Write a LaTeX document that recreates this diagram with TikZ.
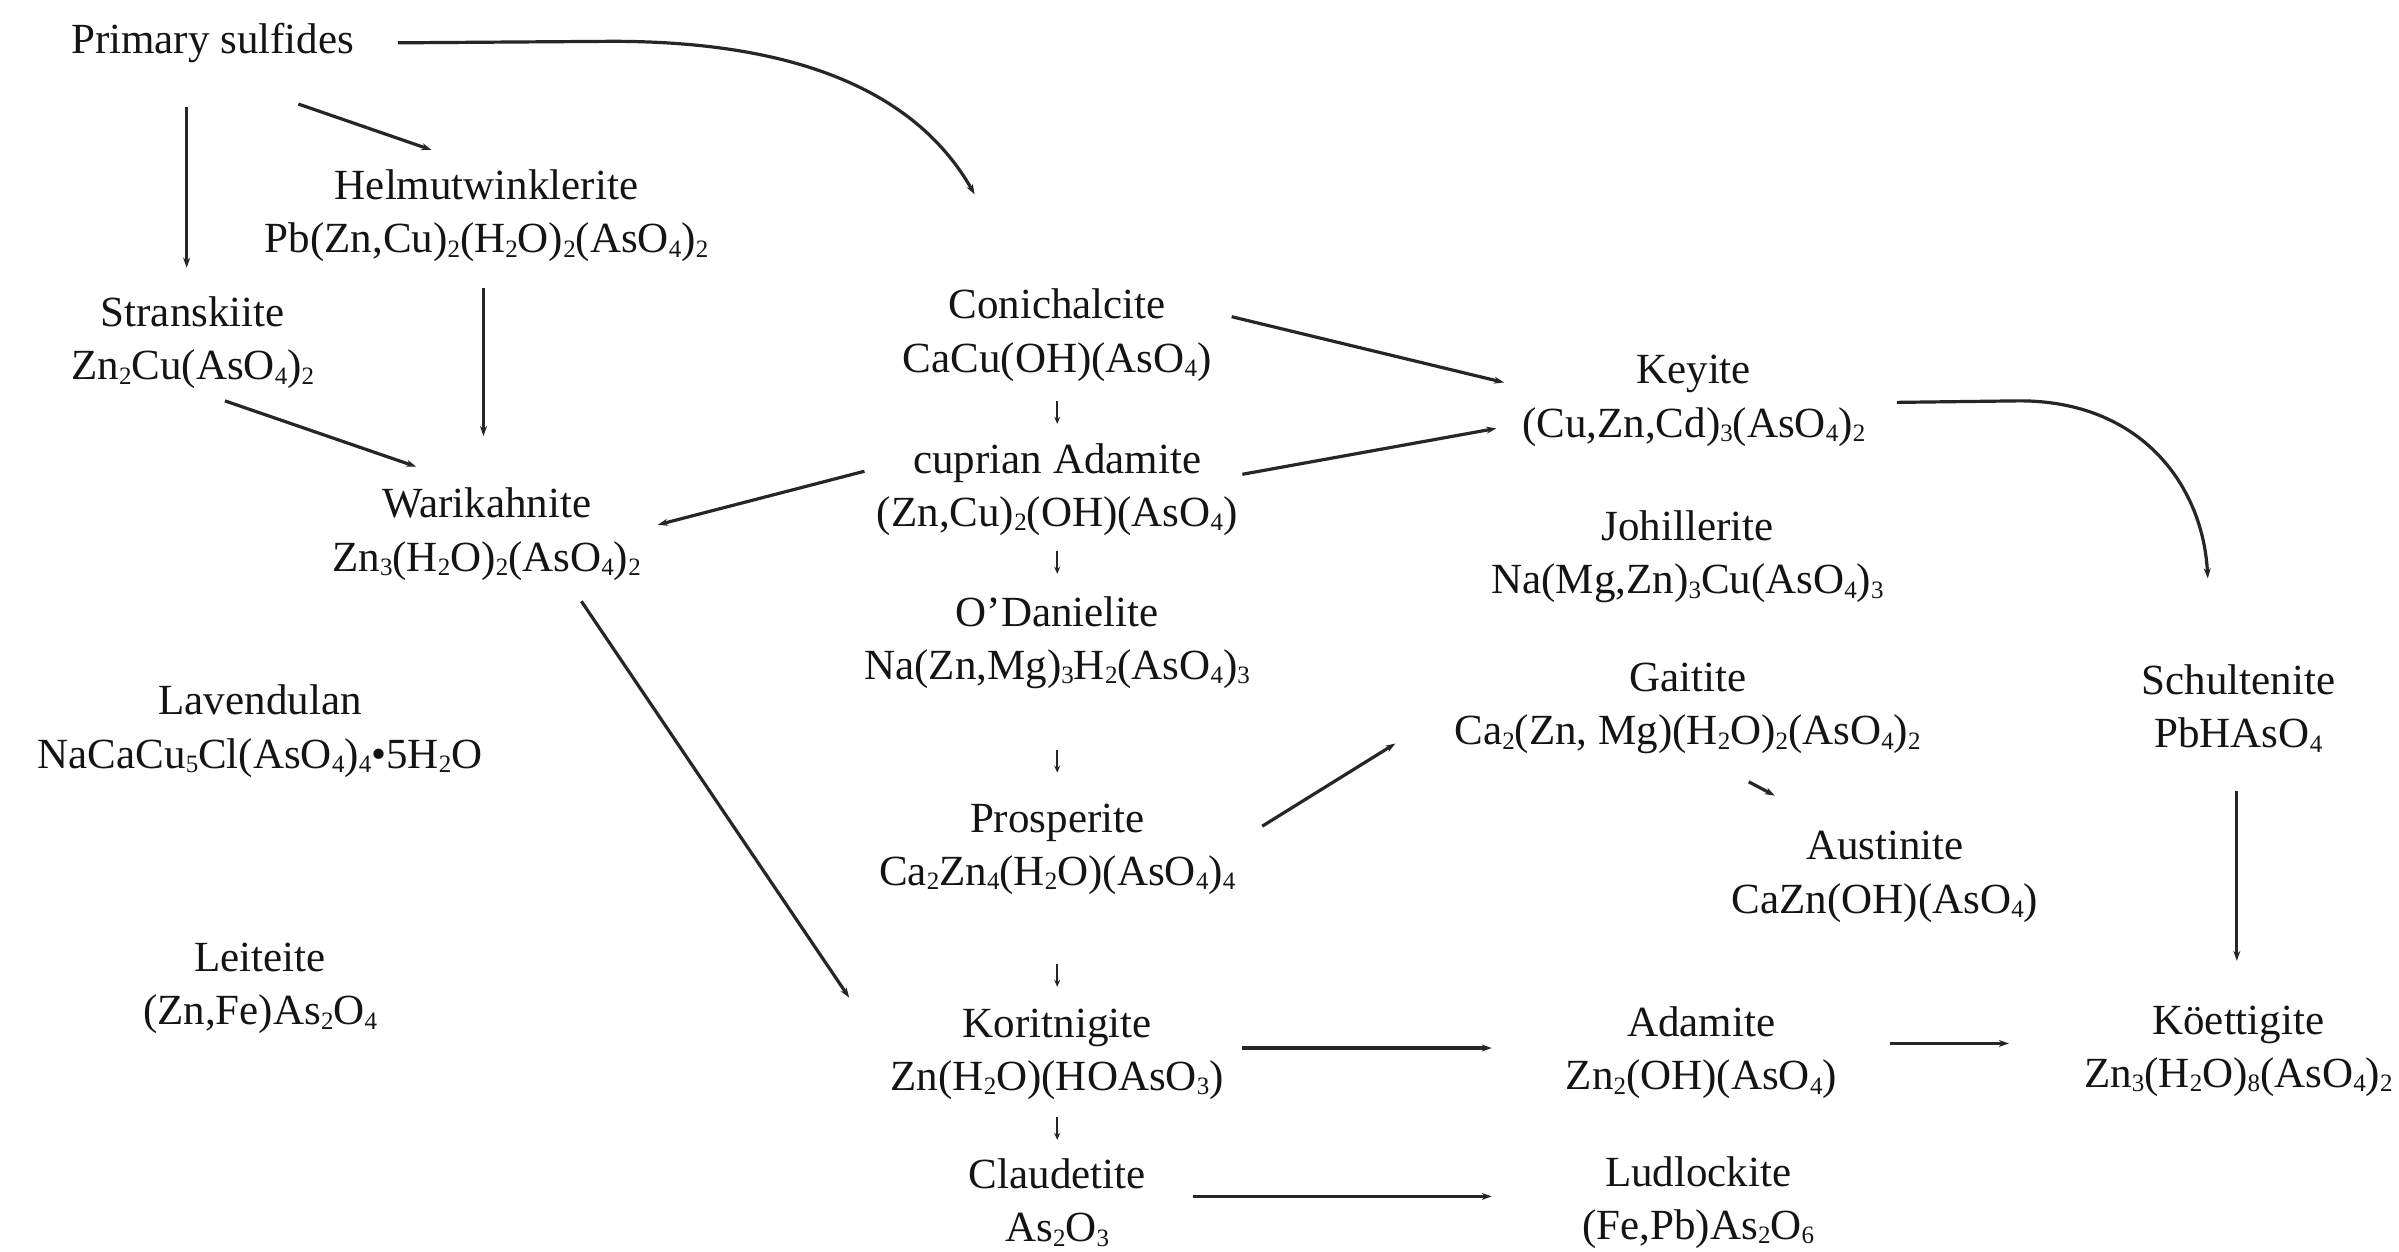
\documentclass[tikz,border=0pt]{standalone}
\usepackage{fontspec}
\setmainfont{Liberation Serif}
\usetikzlibrary{arrows.meta}
\newcommand\sbs[1]{\raisebox{-0.1em}{\fontsize{25}{25}\selectfont #1}}
\begin{document}
\begin{tikzpicture}[x=1.53pt,y=-1.53pt,
  mineral/.style={align=center,inner sep=0pt,font=\fontsize{43}{53.5}\selectfont,text=black!92},
  conn/.style={draw=black!85,line width=3.2pt,-{Stealth[length=10pt,width=7pt]}},
  tinyarr/.style={draw=black!85,line width=2.2pt,-{Stealth[length=7pt,width=6pt]}}]
\fill[white] (0,0) rectangle (1568,818);
\useasboundingbox (0,0) rectangle (1568,818);

\node[mineral] (ps) at (139,28) {Primary sulfides};
\node[mineral] (helm) at (318,141) {Helmutwinklerite\\Pb(Zn,Cu)\sbs{2}(H\sbs{2}O)\sbs{2}(AsO\sbs{4})\sbs{2}};
\node[mineral] (str) at (126,224) {Stranskiite\\Zn\sbs{2}Cu(AsO\sbs{4})\sbs{2}};
\node[mineral] (war) at (318,349) {Warikahnite\\Zn\sbs{3}(H\sbs{2}O)\sbs{2}(AsO\sbs{4})\sbs{2}};
\node[mineral] (lav) at (170,478) {Lavendulan\\NaCaCu\sbs{5}Cl(AsO\sbs{4})\sbs{4}\textbullet5H\sbs{2}O};
\node[mineral] (lei) at (170,646) {Leiteite\\(Zn,Fe)As\sbs{2}O\sbs{4}};
\node[mineral] (coni) at (691,219) {Conichalcite\\CaCu(OH)(AsO\sbs{4})};
\node[mineral] (cad) at (691,320) {cuprian Adamite\\(Zn,Cu)\sbs{2}(OH)(AsO\sbs{4})};
\node[mineral] (oda) at (691,420) {O’Danielite\\Na(Zn,Mg)\sbs{3}H\sbs{2}(AsO\sbs{4})\sbs{3}};
\node[mineral] (pros) at (691,555) {Prosperite\\Ca\sbs{2}Zn\sbs{4}(H\sbs{2}O)(AsO\sbs{4})\sbs{4}};
\node[mineral] (kor) at (691,689) {Koritnigite\\Zn(H\sbs{2}O)(HOAsO\sbs{3})};
\node[mineral] (cla) at (691,786) {Claudetite\\As\sbs{2}O\sbs{3}};
\node[mineral] (key) at (1107,262) {Keyite\\(Cu,Zn,Cd)\sbs{3}(AsO\sbs{4})\sbs{2}};
\node[mineral] (joh) at (1103,364) {Johillerite\\Na(Mg,Zn)\sbs{3}Cu(AsO\sbs{4})\sbs{3}};
\node[mineral] (gai) at (1103,463) {Gaitite\\Ca\sbs{2}(Zn, Mg)(H\sbs{2}O)\sbs{2}(AsO\sbs{4})\sbs{2}};
\node[mineral] (aus) at (1232,573) {Austinite\\CaZn(OH)(AsO\sbs{4})};
\node[mineral] (sch) at (1463,463) {Schultenite\\PbHAsO\sbs{4}};
\node[mineral] (koe) at (1463,687) {Köettigite\\Zn\sbs{3}(H\sbs{2}O)\sbs{8}(AsO\sbs{4})\sbs{2}};
\node[mineral] (ada) at (1112,688) {Adamite\\Zn\sbs{2}(OH)(AsO\sbs{4})};
\node[mineral] (lud) at (1110,786) {Ludlockite\\(Fe,Pb)As\sbs{2}O\sbs{6}};

% curved connectors
\draw[conn] ([shift={(121,0)}]ps.center) -- (400,27) .. controls (525,27) and (600,62) .. ([shift={(-54,-92)}]coni.center);
\draw[conn] ([shift={(133,1)}]key.center) -- (1320,262) .. controls (1400,262) and (1440,318) .. ([shift={(-20,-85)}]sch.center);

% straight connectors
\draw[conn] ([shift={(-17,42)}]ps.center) -- ([shift={(-4,-49)}]str.center);
\draw[conn] ([shift={(56,40)}]ps.center) -- ([shift={(-36,-43)}]helm.center);
\draw[conn] ([shift={(-2,47)}]helm.center) -- ([shift={(-2,-64)}]war.center);
\draw[conn] ([shift={(21,38)}]str.center) -- ([shift={(-46,-44)}]war.center);
\draw[conn] ([shift={(-126,-12)}]cad.center) -- ([shift={(112,-6)}]war.center);
\draw[conn] ([shift={(62,44)}]war.center) -- ([shift={(-136,-37)}]kor.center);
\draw[conn] ([shift={(114,-12)}]coni.center) -- ([shift={(-124,-12)}]key.center);
\draw[conn] ([shift={(121,-10)}]cad.center) -- ([shift={(-129,18)}]key.center);
\draw[conn] ([shift={(134,-15)}]pros.center) -- ([shift={(-191,23)}]gai.center);
\draw[conn] ([shift={(40,48)}]gai.center) -- ([shift={(-72,-53)}]aus.center);
\draw[conn] ([shift={(-1,54)}]sch.center) -- ([shift={(-1,-59)}]koe.center);
\draw[conn] ([shift={(121,-4)}]kor.center) -- ([shift={(-137,-3)}]ada.center);
\draw[conn] ([shift={(123,-6)}]ada.center) -- ([shift={(-150,-5)}]koe.center);
\draw[conn] ([shift={(89,-4)}]cla.center) -- ([shift={(-135,-4)}]lud.center);

% short vertical arrows in the central column
\draw[tinyarr] ([shift={(0,43)}]coni.center) -- ([shift={(0,-43)}]cad.center);
\draw[tinyarr] ([shift={(0,40)}]cad.center) -- ([shift={(0,-45)}]oda.center);
\draw[tinyarr] ([shift={(0,70)}]oda.center) -- ([shift={(0,-50)}]pros.center);
\draw[tinyarr] ([shift={(0,75)}]pros.center) -- ([shift={(0,-44)}]kor.center);
\draw[tinyarr] ([shift={(0,41)}]kor.center) -- ([shift={(0,-41)}]cla.center);
\end{tikzpicture}
\end{document}
